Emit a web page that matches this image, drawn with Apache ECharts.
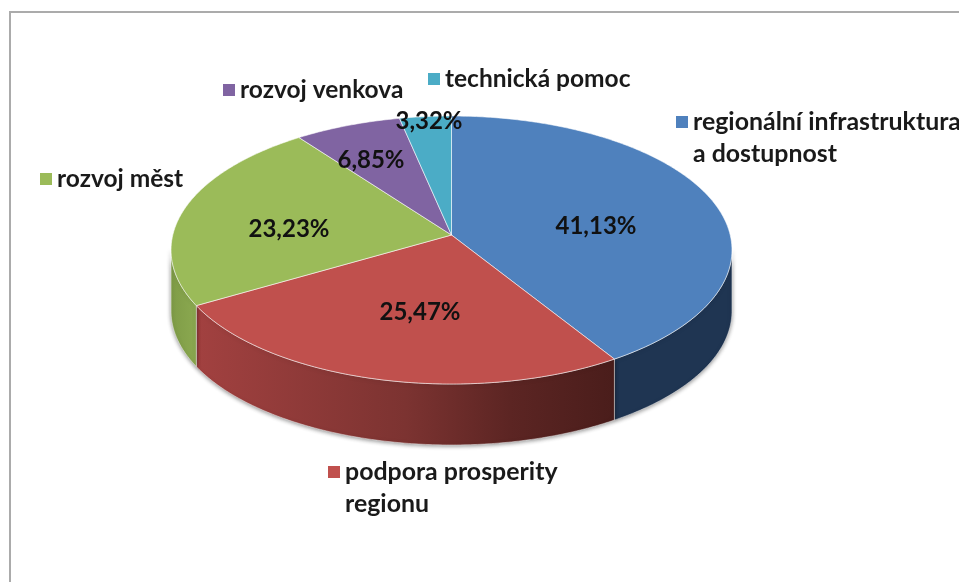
<!DOCTYPE html>
<html>
<head>
<meta charset="utf-8">
<style>
html,body{margin:0;padding:0;background:#fff;overflow:hidden}
#main{width:959px;height:582px;filter:blur(0.4px)}
</style>
<script src="https://cdn.jsdelivr.net/npm/echarts@6/dist/echarts.min.js"></script>
</head>
<body>
<div id="main"></div>
<script>
// data
var names = ['regionální infrastruktura\na dostupnost', 'podpora prosperity\nregionu', 'rozvoj měst', 'rozvoj venkova', 'technická pomoc'];
var values = [41.13, 25.47, 23.23, 6.85, 3.32];
var colors = ['#4F81BD', '#C0504D', '#9BBB59', '#8064A2', '#4BACC6'];

// tilted pie
var cx = 451.5, cy = 235, ra = 278.7, rb = 132.3, persp = 0.112, depth = 61;
var edgeR = Math.acos(-persp), edgeL = 2 * Math.PI - edgeR;   // where the rim turns behind

var wallFill = [
    '#1F3552',
    new echarts.graphic.LinearGradient(0, 0, 1, 0, [
        {offset: 0, color: '#A24140'}, {offset: 0.5, color: '#7C3331'},
        {offset: 0.75, color: '#5C2523'}, {offset: 1, color: '#4A1D1B'}
    ]),
    new echarts.graphic.LinearGradient(0, 0, 1, 0, [
        {offset: 0, color: '#7F9C47'}, {offset: 1, color: '#8BA950'}
    ]),
    '#5F4B79',
    '#37809A'
];
var labelAt = [[596, 226], [420, 312], [289, 229], [371, 160], [429, 121]];
var legendAt = [[676, 74], [328, 424], [40, 163], [223, 74], [428, 63]];

function rim(t, dy) {
    var u = Math.sin(t), v = -Math.cos(t), d = 1 - persp * v;
    return [cx + ra * u / d, cy + rb * v / d + (dy || 0)];
}
function arcPts(a, b, dy) {
    var pts = [], n = Math.max(2, Math.ceil((b - a) * 90));
    for (var i = 0; i <= n; i++) pts.push(rim(a + (b - a) * i / n, dy));
    return pts;
}

var total = values.reduce(function (s, x) { return s + x; }, 0);

function makeRender(idx) {
    return function (params, api) {
        var before = 0;
        for (var i = 0; i < idx; i++) before += values[i];
        var a = before / total * 2 * Math.PI;
        var b = a + api.value(0) / total * 2 * Math.PI;
        var kids = [];
        var s = Math.max(a, edgeR), e = Math.min(b, edgeL);
        if (e > s) {
            var wall = arcPts(s, e, 0).concat(arcPts(s, e, depth).reverse());
            kids.push({
                type: 'polygon', z2: 1, shape: {points: wall},
                style: {fill: wallFill[idx], stroke: 'rgba(255,255,255,0.75)', lineWidth: 0.6,
                    shadowBlur: 4, shadowColor: 'rgba(0,0,0,0.45)', shadowOffsetY: 1}
            });
        }
        kids.push({
            type: 'polygon', z2: 2, shape: {points: [[cx, cy]].concat(arcPts(a, b, 0))},
            style: {fill: colors[idx], stroke: 'rgba(255,255,255,0.7)', lineWidth: 0.8}
        });
        kids.push({
            type: 'text', z2: 5,
            style: {
                text: api.value(0).toFixed(2).replace('.', ',') + '%',
                x: labelAt[idx][0], y: labelAt[idx][1], align: 'center', verticalAlign: 'middle',
                fill: '#111', font: 'bold 24px Lato'
            }
        });
        return {type: 'group', children: kids};
    };
}

var myChart = echarts.init(document.getElementById('main'), null, {renderer: 'canvas'});
var option = {
    animation: false,
    backgroundColor: '#fff',
    graphic: [{
        type: 'rect', silent: true, z: -1,
        shape: {x: 10, y: 12, width: 1000, height: 700},
        style: {fill: '#fff', stroke: '#ABABAB', lineWidth: 2}
    }],
    legend: names.map(function (n, i) {
        return {
            data: [n], left: legendAt[i][0], top: legendAt[i][1], padding: 0,
            icon: 'rect', itemWidth: 12, itemHeight: 12, selectedMode: false,
            // blank first line keeps the key level with the first text line
            formatter: function (name) { return name.indexOf('\n') > -1 ? '\n' + name : name; },
            textStyle: {
                fontFamily: 'Lato', fontWeight: 'bold', color: '#1a1a1a',
                fontSize: n.indexOf('\n') > -1 ? 24.9 : 24.5,
                lineHeight: 32
            }
        };
    }),
    series: names.map(function (n, i) {
        return {
            type: 'custom', name: n, coordinateSystem: 'none',
            itemStyle: {color: colors[i]},
            data: [[values[i]]],
            renderItem: makeRender(i)
        };
    })
};
myChart.setOption(option);
</script>
</body>
</html>
